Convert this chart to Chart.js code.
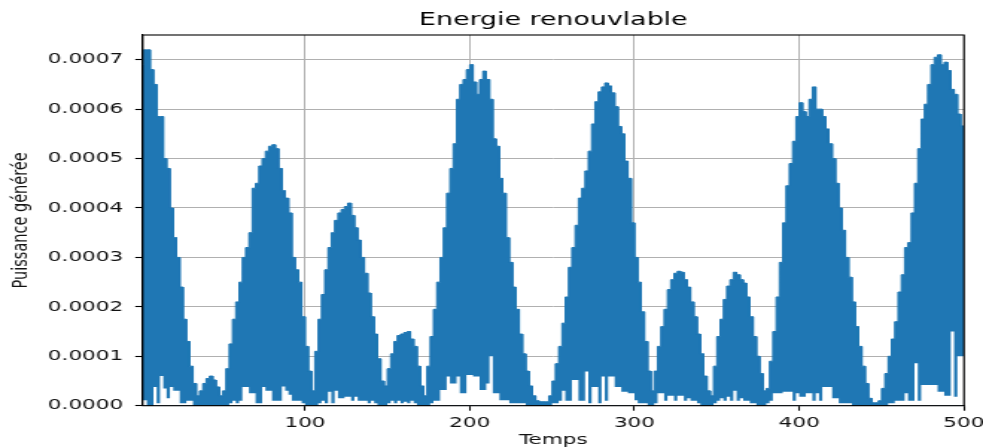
<!DOCTYPE html>
<html>
<head>
<meta charset="utf-8">
<script src="https://cdn.jsdelivr.net/npm/chart.js@4.4.1/dist/chart.umd.min.js"></script>
<style>
    html, body { margin: 0; padding: 0; background: #fff; overflow: hidden; }
    /* la figure d'origine est étirée en largeur */
    #wrap { width: 660px; height: 448px; transform: scaleX(1.4894); transform-origin: 0 0; }
</style>
</head>
<body>
<div id="wrap"><canvas id="myChart"></canvas></div>
<script>
// Valeurs, en unités de 0.0001
// un point tous les 2 pas de temps : max et min du signal sur l'intervalle
const pas = 2

const puissanceMax = [
    6.9, 7.2, 7.2, 6.8, 6.5, 5.85, 5.85, 5.0, 4.8, 4.0,
    3.4, 3.0, 2.4, 1.75, 1.3, 0.8, 0.45, 0.2, 0.3, 0.45,
    0.55, 0.6, 0.52, 0.38, 0.2, 0.3, 0.75, 1.25, 1.75, 2.1,
    2.5, 3.0, 3.2, 3.5, 4.4, 4.5, 4.85, 5.0, 5.15, 5.25,
    5.28, 5.2, 4.8, 4.35, 4.2, 3.9, 3.0, 2.75, 2.5, 1.8,
    1.2, 0.7, 0.3, 1.1, 1.75, 2.25, 2.75, 3.2, 3.5, 3.75,
    3.9, 3.97, 4.03, 4.1, 3.85, 3.6, 3.35, 3.0, 2.68, 2.28,
    1.8, 1.45, 0.95, 0.5, 0.4, 0.75, 1.05, 1.3, 1.42, 1.45,
    1.48, 1.5, 1.35, 1.2, 0.8, 0.4, 0.2, 0.8, 1.4, 1.95,
    2.5, 3.0, 3.6, 4.3, 4.8, 5.3, 6.2, 6.5, 6.6, 6.8,
    6.9, 6.55, 6.3, 6.6, 6.77, 6.6, 6.2, 5.4, 5.25, 4.6,
    4.3, 3.4, 2.9, 2.4, 1.95, 1.45, 1.05, 0.7, 0.4, 0.2,
    0.1, 0.08, 0.08, 0.08, 0.2, 0.5, 0.85, 1.2, 1.67, 2.2,
    2.8, 3.2, 3.65, 4.2, 4.4, 4.75, 5.15, 5.7, 6.15, 6.35,
    6.45, 6.53, 6.47, 6.33, 6.05, 5.65, 5.5, 4.95, 4.6, 3.7,
    3.0, 2.5, 1.9, 1.3, 0.7, 0.3, 0.7, 1.2, 1.6, 1.95,
    2.35, 2.55, 2.68, 2.72, 2.7, 2.55, 2.4, 2.1, 1.8, 1.45,
    1.05, 0.6, 0.3, 0.2, 0.8, 1.4, 1.75, 2.15, 2.42, 2.55,
    2.7, 2.65, 2.55, 2.48, 2.2, 1.8, 1.4, 1.0, 0.65, 0.3,
    0.35, 0.9, 1.5, 2.2, 2.9, 3.7, 4.45, 4.9, 5.35, 5.85,
    6.13, 5.95, 5.85, 6.2, 6.45, 6.0, 6.0, 5.85, 5.6, 5.3,
    5.0, 4.5, 4.0, 3.55, 3.0, 2.6, 2.1, 1.6, 1.2, 0.8,
    0.45, 0.15, 0.06, 0.06, 0.1, 0.35, 0.65, 1.0, 1.35, 1.7,
    2.3, 2.65, 3.2, 3.3, 3.9, 4.5, 5.2, 5.8, 6.1, 6.5,
    6.9, 7.05, 7.1, 6.9, 6.95, 6.78, 6.4, 6.3, 5.9, 5.66,
    5.66
]

const puissanceMin = [
    0.11, 0.11, 0, 0, 0.38, 0.05, 0.6, 0.35, 0.15, 0.38,
    0.3, 0.3, 0.05, 0.05, 0.1, 0.1, 0, 0, 0, 0,
    0, 0, 0, 0, 0, 0, 0, 0.05, 0.1, 0.05,
    0.1, 0.38, 0.38, 0.25, 0.25, 0.05, 0.05, 0.38, 0.3, 0.3,
    0.1, 0.1, 0.1, 0.39, 0.3, 0.22, 0.1, 0.1, 0.1, 0.05,
    0, 0, 0, 0, 0.05, 0.1, 0.05, 0.28, 0.05, 0.3,
    0.15, 0.15, 0.18, 0.18, 0.1, 0.18, 0.1, 0.1, 0.1, 0.05,
    0.1, 0.05, 0, 0, 0, 0.05, 0.1, 0.05, 0.1, 0.05,
    0.08, 0.05, 0.1, 0.05, 0, 0, 0, 0, 0.05, 0.1,
    0.1, 0.32, 0.32, 0.59, 0.45, 0.45, 0.59, 0.25, 0.25, 0.62,
    0.62, 0.59, 0.59, 0.32, 0.32, 0.45, 1.0, 0.25, 0.25, 0.11,
    0.11, 0.11, 0.05, 0.05, 0.05, 0.05, 0.05, 0, 0, 0,
    0, 0, 0, 0, 0, 0.05, 0.05, 0.1, 0.3, 0.1,
    0.1, 0.52, 0.52, 0.1, 0.1, 0.69, 0.05, 0.38, 0.38, 0.05,
    0.59, 0.1, 0.59, 0.59, 0.38, 0.38, 0.28, 0.28, 0.25, 0.25,
    0.11, 0.05, 0.05, 0.05, 0, 0, 0.05, 0.25, 0.25, 0.1,
    0.2, 0.2, 0.1, 0.2, 0.2, 0.1, 0.15, 0.1, 0.1, 0.05,
    0, 0, 0, 0, 0.05, 0.1, 0.15, 0.1, 0.18, 0.1,
    0.3, 0.1, 0.15, 0.1, 0.1, 0.05, 0.05, 0, 0, 0,
    0.05, 0.1, 0.25, 0.25, 0.25, 0.28, 0.28, 0.28, 0.1, 0.25,
    0.18, 0.18, 0.25, 0.25, 0.1, 0.25, 0.1, 0.38, 0.38, 0.38,
    0.15, 0.15, 0.05, 0.05, 0.05, 0.05, 0, 0, 0, 0,
    0, 0, 0, 0, 0, 0, 0, 0.05, 0.05, 0.1,
    0.1, 0.1, 0.25, 0.1, 0.1, 0.86, 0.1, 0.42, 0.42, 0.42,
    0.42, 0.42, 0.28, 0.28, 0.2, 0.2, 1.5, 0.18, 1.0, 1.0,
    1.0
]

const temps = puissanceMax.map((v, i) => i * pas)

const ticksX = [100, 200, 300, 400, 500]
const ticksY = [0, 0.0001, 0.0002, 0.0003, 0.0004, 0.0005, 0.0006, 0.0007]

const titre = "Energie renouvlable"
const labelX = "Temps"
const labelY = "Puissance générée"

// chaque valeur tient sur tout son intervalle [t, t + pas] (forme en escalier)
function toPoints(list) {
    const pts = []
    list.forEach((v, i) => {
        pts.push({ x: temps[i], y: v / 10000 })
        pts.push({ x: temps[i] + pas, y: v / 10000 })
    })
    return pts
}

// cadre noir autour de la zone du graphe (les 4 côtés comme matplotlib)
const cadre = {
    id: 'cadre',
    afterDatasetsDraw(chart) {
        const { ctx, chartArea: a } = chart
        ctx.save()
        ctx.strokeStyle = '#000'
        ctx.lineWidth = 1.1
        ctx.strokeRect(a.left, a.top, a.right - a.left, a.bottom - a.top)
        ctx.restore()
    }
}

const police = { family: 'DejaVu Sans', size: 14.5 }
const gris = '#b0b0b0'

const canvas = document.getElementById("myChart")

// dataset 0 est dessiné en dernier : le creux sous le minimum reste blanc
var data = {
    datasets: [
        {
            label: 'min',
            data: toPoints(puissanceMin),
            borderColor: 'rgba(0,0,0,0)',
            backgroundColor: '#ffffff',
            pointRadius: 0,
            tension: 0,
            fill: 'origin'
        },
        {
            label: 'max',
            data: toPoints(puissanceMax),
            borderColor: '#1f77b4',
            borderWidth: 1,
            backgroundColor: '#1f77b4',
            pointRadius: 0,
            tension: 0,
            fill: 'origin'
        }
    ]
}

var options = {
    responsive: true,
    maintainAspectRatio: false,
    animation: false,
    devicePixelRatio: 1,
    layout: { padding: { left: 0, right: 12.8, top: 0, bottom: 0 } },
    plugins: {
        legend: { display: false },
        tooltip: { enabled: false },
        title: {
            display: true,
            text: titre,
            fullSize: false,
            color: '#000',
            font: { family: 'DejaVu Sans', size: 18, weight: 'normal' },
            padding: { top: 9.7, bottom: 3.7 }
        }
    },
    scales: {
        x: {
            type: 'linear',
            min: 1.5,
            max: 500,
            grid: { color: gris, lineWidth: 1, tickLength: 5, tickColor: '#000', tickWidth: 1.1 },
            border: { color: '#000', width: 1.1 },
            ticks: {
                color: '#111',
                font: police,
                padding: 3.5,
                maxRotation: 0,
                autoSkip: false
            },
            afterBuildTicks(scale) {
                scale.ticks = ticksX.map(v => ({ value: v }))
            },
            title: { display: true, text: labelX, color: '#111', font: police, padding: { top: 0, bottom: -1 } },
            afterFit(scale) {
                scale.height = 42.3
                scale.paddingLeft = 0
                scale.paddingRight = 0
            }
        },
        y: {
            min: 0,
            max: 0.00075,
            grid: { color: gris, lineWidth: 1, tickLength: 5, tickColor: '#000', tickWidth: 1.1 },
            border: { color: '#000', width: 1.1 },
            ticks: {
                color: '#111',
                font: police,
                padding: 8,
                autoSkip: false,
                callback: (v) => v.toFixed(4)
            },
            afterBuildTicks(scale) {
                scale.ticks = ticksY.map(v => ({ value: v }))
            },
            title: { display: true, text: labelY, color: '#111', font: police, padding: { top: 6, bottom: 0 } },
            afterFit(scale) {
                scale.width = 95.8
                scale.paddingTop = 0
                scale.paddingBottom = 0
            }
        }
    }
}

var config = {
    type: 'line',
    data: data,
    options: options,
    plugins: [cadre]
}

var myChart = new Chart(canvas, config)
</script>
</body>
</html>
